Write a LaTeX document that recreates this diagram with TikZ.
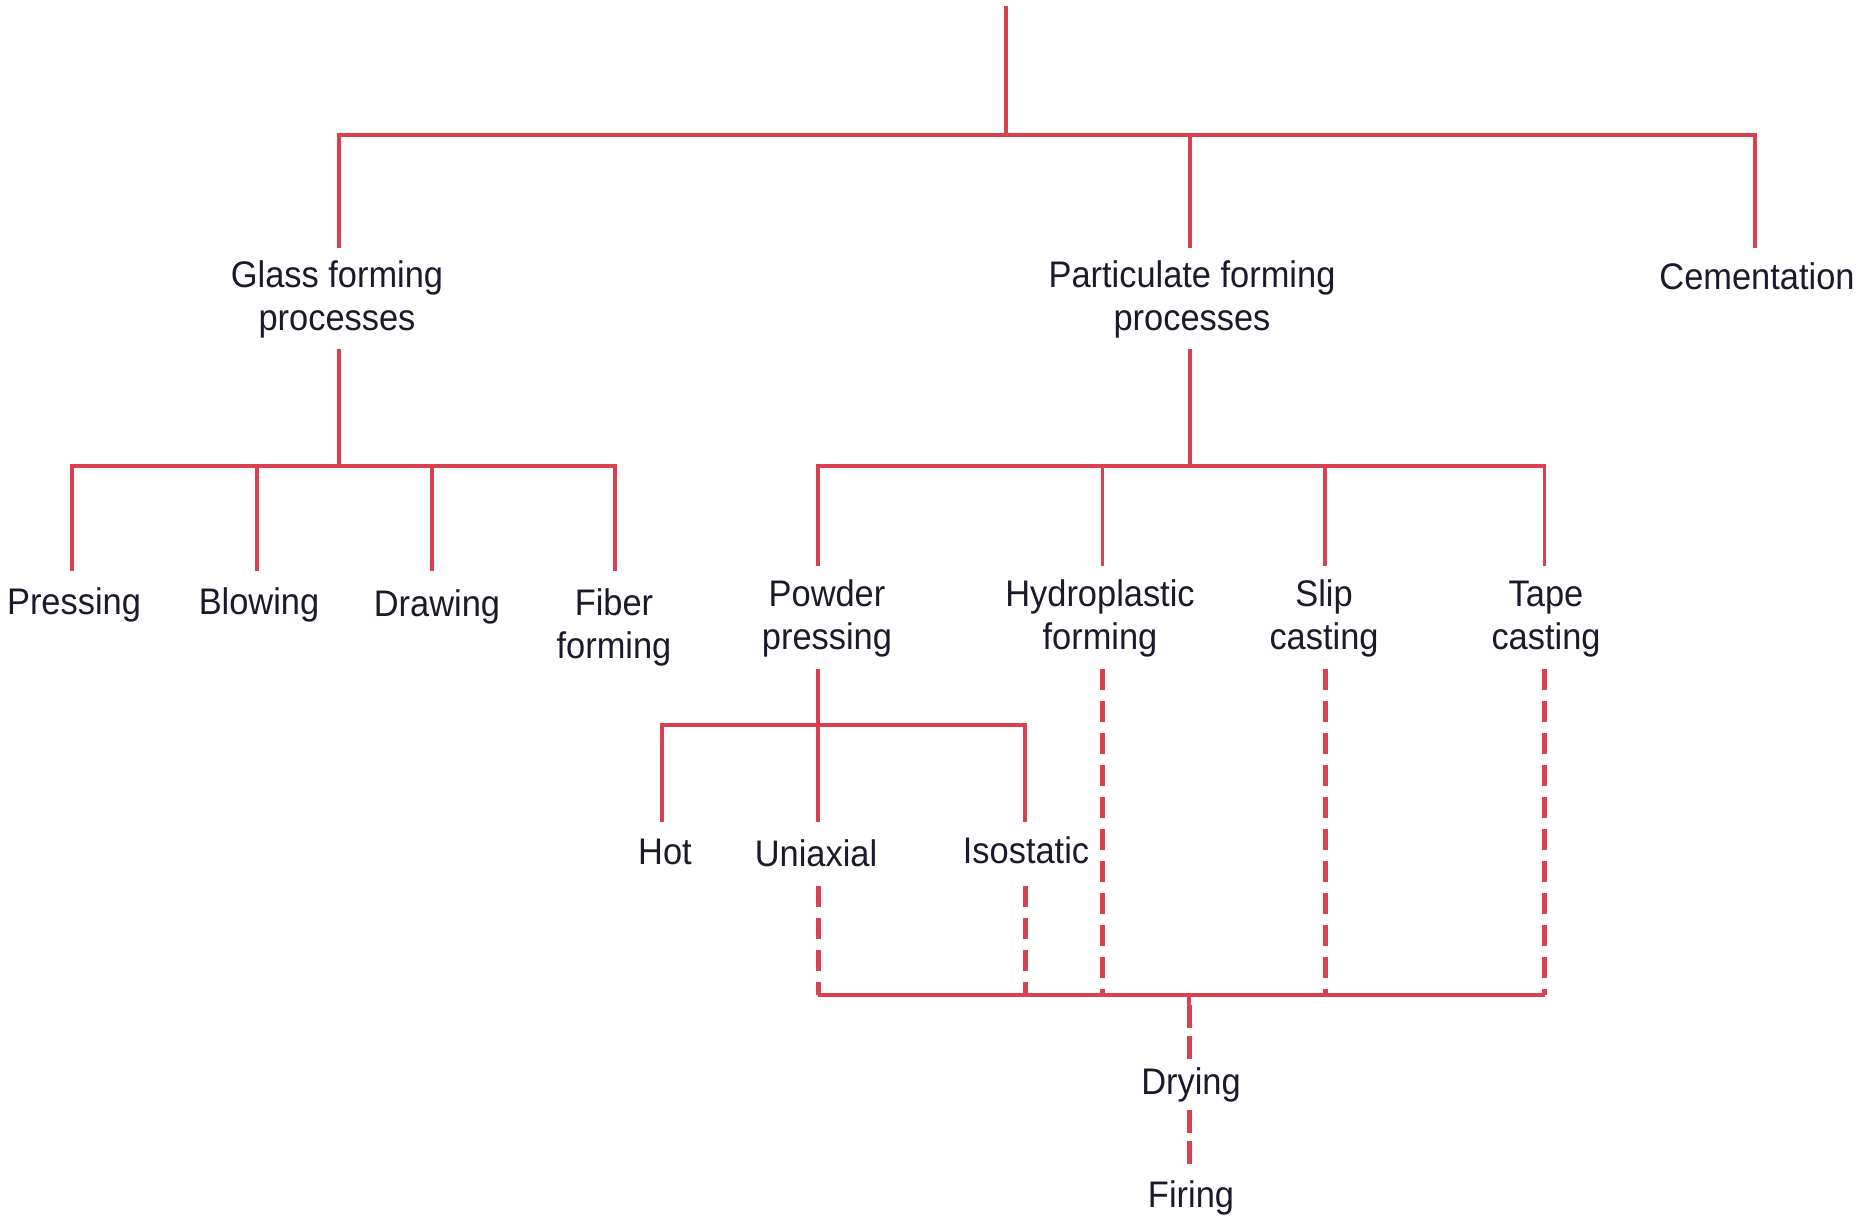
\documentclass[tikz,border=0pt]{standalone}
\usepackage{fontspec}
\setmainfont{Liberation Sans}[FakeStretch=0.93]
\definecolor{tree}{HTML}{D94050}
\definecolor{ink}{HTML}{1A1A2A}
\tikzset{
  lbl/.style={font=\fontsize{37}{43}\selectfont, text=ink, inner sep=0pt, anchor=base, align=center},
  branch/.style={draw=tree, line width=3.5pt},
  later/.style={draw=tree, line width=5pt, dash pattern=on 21pt off 11pt},
  finish/.style={draw=tree, line width=5pt, dash pattern=on 23pt off 8pt},
  collect/.style={draw=tree, line width=4pt}
}
\begin{document}
\begin{tikzpicture}[x=1pt,y=-1pt]
\useasboundingbox (0,0) rectangle (1873,1217);

% ---- labels (base = baseline of the last line) ----
\node[lbl] (glass) at (337,330) {Glass forming\\processes};
\node[lbl] (part)  at (1192,330) {Particulate forming\\processes};
\node[lbl] (cem)   at (1757,289) {Cementation};

\node[lbl] (press) at (74,614)  {Pressing};
\node[lbl] (blow)  at (259,614) {Blowing};
\node[lbl] (drawg) at (437,616) {Drawing};
\node[lbl] (fiber) at (614,658) {Fiber\\forming};

\node[lbl] (powder) at (827,649)  {Powder\\pressing};
\node[lbl] (hydro)  at (1100,649) {Hydroplastic\\forming};
\node[lbl] (slip)   at (1324,649) {Slip\\casting};
\node[lbl] (tape)   at (1546,649) {Tape\\casting};

\node[lbl] (hot) at (665,864) {Hot};
\node[lbl] (uni) at (816,866) {Uniaxial};
\node[lbl] (iso) at (1026,863) {Isostatic};

\node[lbl] (dry)  at (1191,1094) {Drying};
\node[lbl] (fire) at (1191,1207) {Firing};

% ---- connector end points ----
\coordinate (root)  at (1006,6);
\coordinate (hub)   at (1006,135);
\coordinate (glassIn) at (339,248);
\coordinate (partIn)  at (1190,248);
\coordinate (cemIn)   at (1755,248);

\coordinate (glassOut) at (339,349);
\coordinate (glassHub) at (339,466);
\coordinate (pressIn) at (72,571);
\coordinate (blowIn)  at (257,571);
\coordinate (drawIn)  at (432,571);
\coordinate (fiberIn) at (615,571);

\coordinate (partOut) at (1190,349);
\coordinate (partHub) at (1190,466);
\coordinate (powderIn) at (818,566);
\coordinate (hydroIn)  at (1102.5,566);
\coordinate (slipIn)   at (1325,566);
\coordinate (tapeIn)   at (1544.5,566);

\coordinate (powderOut) at (818,669);
\coordinate (powderHub) at (818,725);
\coordinate (hotIn) at (662,822);
\coordinate (uniIn) at (818,822);
\coordinate (isoIn) at (1025,822);

\coordinate (uniOut)   at (818,886);
\coordinate (isoOut)   at (1025,886);
\coordinate (hydroOut) at (1102.5,669);
\coordinate (slipOut)  at (1325,669);
\coordinate (tapeOut)  at (1544.5,669);
\coordinate (sink)     at (1189,995);
\coordinate (stub)     at (1189,1005);
\coordinate (dryIn)    at (1189,1059);
\coordinate (dryOut)   at (1189,1110);
\coordinate (fireIn)   at (1189,1164);

% ---- solid tree ----
\draw[branch] (root) -- (hub);
\draw[branch] (glassIn) |- (cemIn |- hub) -- (cemIn);
\draw[branch] (partIn) -- (partIn |- hub);

\draw[branch] (glassOut) -- (glassHub);
\draw[branch] (pressIn) |- (fiberIn |- glassHub) -- (fiberIn);
\draw[branch] (blowIn) -- (blowIn |- glassHub);
\draw[branch] (drawIn) -- (drawIn |- glassHub);

\draw[branch] (partOut) -- (partHub);
\draw[branch] (powderIn) |- (tapeIn |- partHub) -- (tapeIn);
\draw[branch] (hydroIn) -- (hydroIn |- partHub);
\draw[branch] (slipIn) -- (slipIn |- partHub);

\draw[branch] (powderOut) -- (uniIn);
\draw[branch] (hotIn) |- (isoIn |- powderHub) -- (isoIn);

% ---- dashed follow-up steps ----
\draw[later] (uniOut) -- (uniOut |- sink);
\draw[later] (isoOut) -- (isoOut |- sink);
\draw[later] (hydroOut) -- (hydroOut |- sink);
\draw[later] (slipOut) -- (slipOut |- sink);
\draw[later] (tapeOut) -- (tapeOut |- sink);
\draw[collect] (uniOut |- sink) -- (tapeOut |- sink);
\draw[branch] (sink) -- (stub);
\draw[finish] (stub) -- (dryIn);
\draw[finish] (dryOut) -- (fireIn);
\end{tikzpicture}
\end{document}
